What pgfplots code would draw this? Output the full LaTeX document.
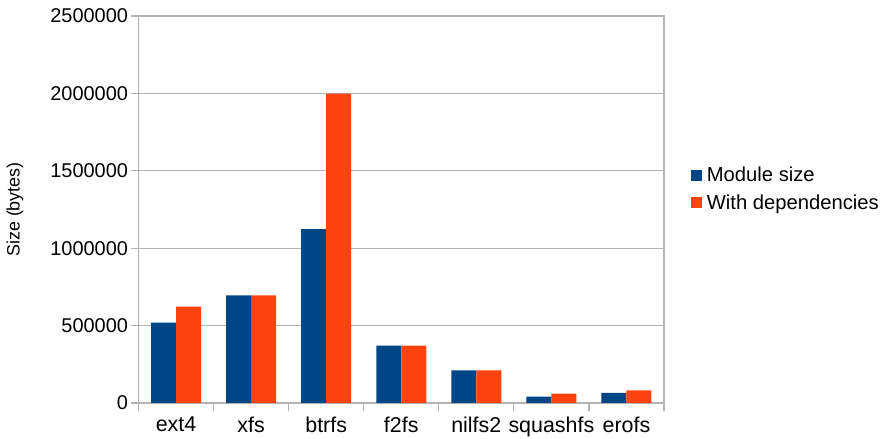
\documentclass[border=0pt]{standalone}
\usepackage{fontspec}
\setmainfont{Liberation Sans}
\usepackage{pgfplots}
\pgfplotsset{compat=1.18}

\definecolor{modblue}{HTML}{004586}
\definecolor{deporange}{HTML}{FF420E}
\definecolor{gridgray}{HTML}{B3B3B3}

\begin{document}
\begin{tikzpicture}
\useasboundingbox (0,0) rectangle (883bp,439bp);
\begin{axis}[
  at={(138.5bp,36bp)}, anchor=south west,
  scale only axis,
  width=525.5bp, height=387bp,
  xmin=-0.5, xmax=6.5,
  ymin=0, ymax=2500000,
  ybar=0pt, bar width=25bp,
  xtick={0,...,6},
  xticklabels={ext4,xfs,btrfs,f2fs,nilfs2,squashfs,erofs},
  minor xtick={-0.5,0.5,...,6.5},
  xtick pos=bottom, ytick pos=left,
  major x tick style={draw=none},
  minor x tick style={gridgray, line width=1.2pt},
  minor tick length=8bp,
  ytick={0,500000,...,2500000},
  major y tick style={gridgray, line width=1.2pt},
  major tick length=7bp,
  tick align=outside,
  ymajorgrids,
  grid style={gridgray, line width=1.1pt},
  axis line style={gridgray, line width=1.1pt},
  scaled y ticks=false,
  /pgf/number format/assume math mode=true,
  y tick label style={/pgf/number format/fixed, /pgf/number format/1000 sep={}, font=\fontsize{20}{23}\selectfont},
  x tick label style={font=\fontsize{21.5}{24}\selectfont, yshift=-3bp},
  ylabel={Size (bytes)},
  ylabel style={font=\fontsize{18}{20}\selectfont, at={(axis description cs:-0.235,0.5)}, anchor=center},
  legend style={
    at={(1.045,0.553)}, anchor=west, draw=none,
    font=\fontsize{20.3}{24}\selectfont,
    row sep=7.5bp,
    legend cell align=left,
    /tikz/every even column/.append style={column sep=0bp},
    nodes={inner xsep=5bp},
  },
  legend image code/.code={
    \fill[#1] (0bp,-5.5bp) rectangle (11bp,5.5bp);
  },
]
\addplot[fill=modblue, draw=none] coordinates {
  (0,519000) (1,695000) (2,1124000) (3,370000) (4,211000) (5,41000) (6,66000)
};
\addplot[fill=deporange, draw=none] coordinates {
  (0,622000) (1,695000) (2,1999000) (3,370000) (4,211000) (5,60000) (6,82000)
};
\legend{Module size, With dependencies}
\end{axis}
\end{tikzpicture}
\end{document}
